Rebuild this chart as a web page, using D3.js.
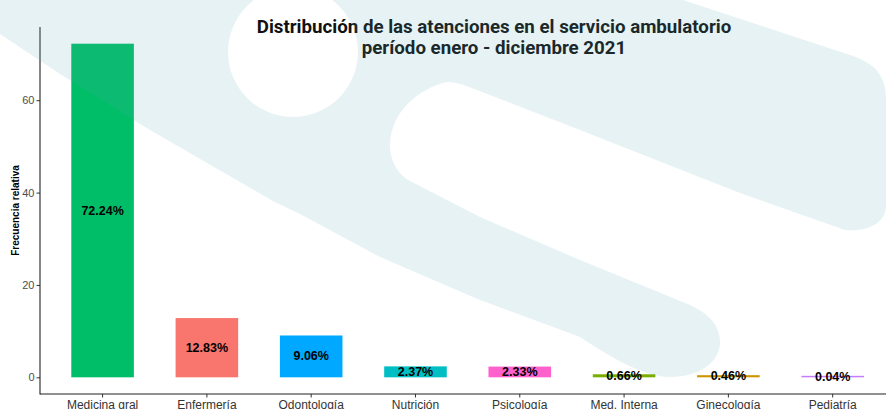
<!DOCTYPE html>
<html>
<head>
<meta charset="utf-8">
<script src="https://cdn.jsdelivr.net/npm/d3@7"></script>
<style>
  html, body { margin: 0; padding: 0; background: #ffffff; }
  svg { display: block; }
</style>
</head>
<body>
<svg id="chart" width="886" height="409"></svg>
<script>
// ---- data ----
const categories = ["Medicina gral", "Enfermería", "Odontología", "Nutrición", "Psicología", "Med. Interna", "Ginecología", "Pediatría"];
const values = [72.24, 12.83, 9.06, 2.37, 2.33, 0.66, 0.46, 0.04];
const labels = ["72.24%", "12.83%", "9.06%", "2.37%", "2.33%", "0.66%", "0.46%", "0.04%"];
const barColors = ["#00BE67", "#F8766D", "#00A9FF", "#00BFC4", "#FF61CC", "#7CAE00", "#CD9600", "#C77CFF"];
const yTicks = [0, 20, 40, 60];
const titleLines = ["Distribución de las atenciones en el servicio ambulatorio", "período enero - diciembre 2021"];
const yTitle = "Frecuencia relativa";

(function () {
// ---- layout ----
const W = 886, H = 409;
const mLeft = 40, mTop = 27, mBottom = 394;
const step = 104.3;
const mRight = mLeft + step * 8.2;

const svg = d3.select("#chart");
svg.append("rect").attr("width", W).attr("height", H).attr("fill", "#ffffff");

const maxV = d3.max(values);
const ex = 0.05 * maxV;
const y = d3.scaleLinear().domain([-ex, maxV + ex]).range([mBottom, mTop]);
const x = d3.scaleBand().domain(categories).range([mLeft, mRight]).paddingInner(0.4).paddingOuter(0.3);

const data = categories.map((c, i) => ({ c, v: values[i], label: labels[i], color: barColors[i] }));

// bars
svg.append("g").selectAll("rect").data(data).join("rect")
  .attr("x", d => x(d.c))
  .attr("width", x.bandwidth())
  .attr("y", d => Math.min(y(d.v), y(0) - 1.5))
  .attr("height", d => Math.max(1.5, y(0) - y(d.v)))
  .attr("fill", d => d.color);

// y axis
const yAxis = d3.axisLeft(y).tickValues(yTicks).tickSize(3.5).tickPadding(2).tickSizeOuter(0);
const gy = svg.append("g").attr("transform", `translate(${mLeft},0)`).call(yAxis);
gy.select(".domain").remove();
gy.selectAll(".tick line").attr("stroke", "#333").attr("stroke-width", 1);
gy.selectAll(".tick text").attr("fill", "#4D4D4D").attr("font-family", "Liberation Sans, Arial, sans-serif").attr("font-size", 11);

// x axis
const xAxis = d3.axisBottom(x).tickSize(3.5).tickPadding(3).tickSizeOuter(0);
const gx = svg.append("g").attr("transform", `translate(0,${mBottom})`).call(xAxis);
gx.select(".domain").remove();
gx.selectAll(".tick line").attr("stroke", "#333").attr("stroke-width", 1);
gx.selectAll(".tick text").attr("fill", "#333").attr("font-family", "Liberation Sans, Arial, sans-serif").attr("font-size", 12).attr("dy", "0.71em");

// axis lines
svg.append("line").attr("x1", mLeft).attr("x2", mLeft).attr("y1", mTop).attr("y2", mBottom + 0.5).attr("stroke", "#222").attr("stroke-width", 1.1);
svg.append("line").attr("x1", mLeft).attr("x2", W).attr("y1", mBottom).attr("y2", mBottom).attr("stroke", "#222").attr("stroke-width", 1.1);

// bar labels
svg.append("g").selectAll("text").data(data).join("text")
  .attr("x", d => x(d.c) + x.bandwidth() / 2)
  .attr("y", d => y(d.v / 2))
  .attr("text-anchor", "middle")
  .attr("dominant-baseline", "central")
  .attr("font-family", "Liberation Sans, Arial, sans-serif")
  .attr("font-weight", "bold")
  .attr("font-size", 12.5)
  .attr("fill", "#000")
  .text(d => d.label);

// y title
svg.append("text")
  .attr("transform", `translate(18.5,${(mTop + mBottom) / 2}) rotate(-90)`)
  .attr("text-anchor", "middle")
  .attr("font-family", "Liberation Sans, Arial, sans-serif")
  .attr("font-weight", "bold")
  .attr("font-size", 10)
  .attr("fill", "#000")
  .text(yTitle);

// title
svg.append("g").selectAll("text").data(titleLines).join("text")
  .attr("x", 494)
  .attr("y", (d, i) => 32.5 + i * 21.5)
  .attr("text-anchor", "middle")
  .attr("font-family", "Roboto, sans-serif")
  .attr("font-weight", "bold")
  .attr("font-size", 18.7)
  .attr("fill", "#111")
  .text(d => d);

// decorative watermark overlay (translucent)
const wm = "M0,0 L683,0 L850,55 C875,63 886,75 886,100 L886,205 C886,222 870,232 845,230 " +
  "L740,193 L580,130 L477,90 C462,84 455,82 447,82 " +
  "C420,88 392,110 390,143 C389,160 398,175 410,181 " +
  "L480,217 L580,260 L690,305 " +
  "C712,315 720,328 720,342 C720,362 700,377 670,377 " +
  "C640,377 600,350 580,337 L480,300 L380,257 L300,214 L273,201 L150,130 L60,74 L0,34 Z " +
  "M228,52 A65,65 0 1,0 358,52 A65,65 0 1,0 228,52 Z";
svg.append("path")
  .attr("d", wm)
  .attr("fill", "#58A8B6")
  .attr("fill-opacity", 0.15)
  .attr("fill-rule", "evenodd");
})();
</script>
</body>
</html>
